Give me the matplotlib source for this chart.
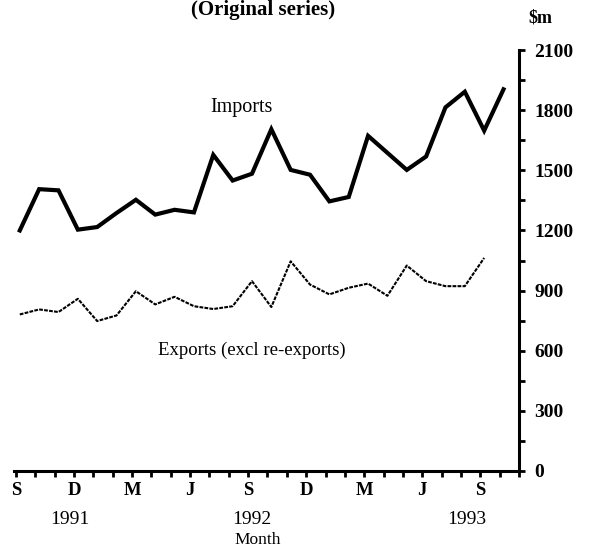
import matplotlib
matplotlib.use("Agg")
import matplotlib.pyplot as plt
import numpy as np

# monthly values, $m, starting September 1991
imports = [1200, 1406, 1400, 1204, 1217, 1287, 1353, 1279, 1303, 1290,
           1577, 1449, 1483, 1705, 1502, 1478, 1345, 1367, 1672, 1587,
           1502, 1569, 1814, 1892, 1698, 1904]
exports = [781, 806, 793, 859, 748, 776, 897, 831, 869, 822,
           808, 822, 947, 818, 1046, 930, 881, 914, 935, 874,
           1025, 947, 922, 922, 1063]

month_letters = ['S', 'D', 'M', 'J', 'S', 'D', 'M', 'J', 'S']
year_labels = ['1991', '1992', '1993']
year_pos = [2.8, 12.2, 23.3]
y_ticks = [0, 300, 600, 900, 1200, 1500, 1800, 2100]

plt.rcParams['font.family'] = ['Liberation Serif', 'DejaVu Serif']

fig = plt.figure(figsize=(5.93, 5.56), dpi=100)
ax = fig.add_axes([0.0236, 0.1529, 0.8516, 0.7571])

off = 0.2  # points sit a little after each month tick
ax.plot(np.arange(len(imports)) + off, imports, color='black', lw=3,
        solid_joinstyle='miter')
ax.plot(np.arange(len(exports)) + off, exports, color='black', lw=1.5,
        linestyle=(0, (1.8, 0.6)))

ax.set_xlim(-0.1, 26.0)
ax.set_ylim(0, 2100)

for s in ['left', 'top']:
    ax.spines[s].set_visible(False)
for s in ['right', 'bottom']:
    ax.spines[s].set_linewidth(2.2)

ax.yaxis.tick_right()
ax.set_yticks(y_ticks)
ax.set_yticklabels([str(v) for v in y_ticks], fontsize=14, fontweight='bold')
ax.set_yticks(np.arange(150, 2100, 300), minor=True)
ax.tick_params(axis='y', which='both', direction='out', length=4, width=2,
               pad=7)

ax.set_xticks(np.arange(0, 27))
ax.set_xticklabels([month_letters[i // 3] if i % 3 == 0 and i // 3 < len(month_letters) else ''
                    for i in range(27)], fontsize=13.5, fontweight='bold')
ax.tick_params(axis='x', which='both', direction='out', length=4, width=2,
               pad=4)

trans = ax.get_xaxis_transform()
for lab, xp in zip(year_labels, year_pos):
    ax.text(xp, -0.116, lab, transform=trans, ha='center', va='center',
            fontsize=14)
ax.text(12.5, -0.164, 'Month', transform=trans, ha='center', va='center',
        fontsize=12.5)

ax.text(1.042, 1.076, '$m', transform=ax.transAxes, ha='center', va='center',
        fontsize=13, fontweight='bold')

ax.text(11.65, 1811, 'Imports', ha='center', va='center', fontsize=14.5)
ax.text(12.2, 600, 'Exports (excl re-exports)', ha='center', va='center',
        fontsize=13.5)

fig.text(0.4435, 0.982, '(Original series)', ha='center', va='center',
         fontsize=15, fontweight='bold')

fig.savefig('out.png', dpi=100)
